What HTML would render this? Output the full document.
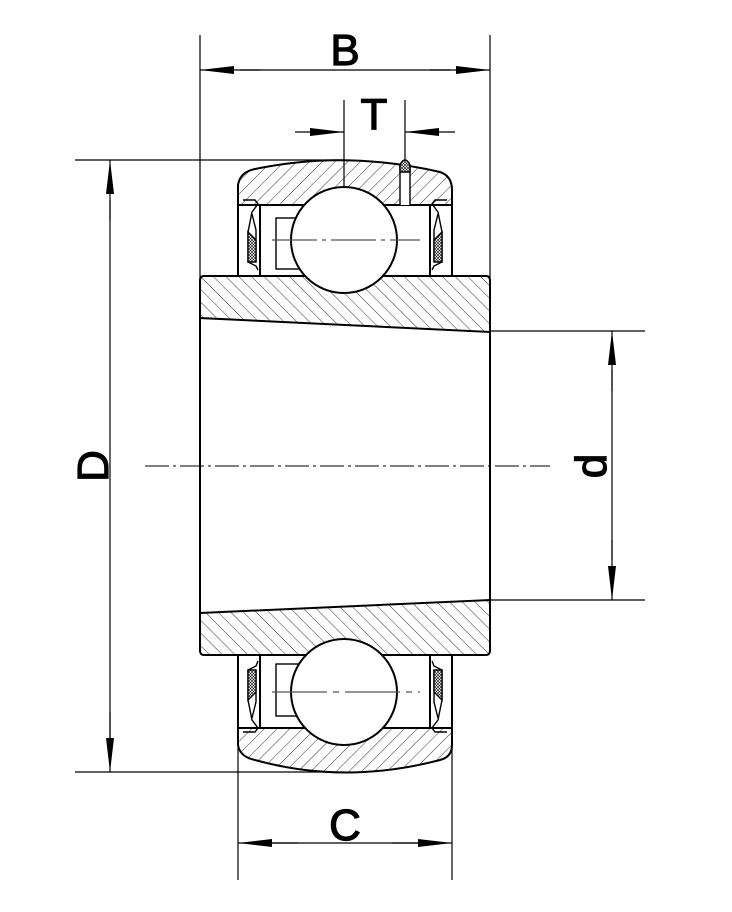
<!DOCTYPE html>
<html><head><style>body{margin:0;background:#fff}svg{display:block}</style></head><body>
<svg width="732" height="912" viewBox="0 0 732 912" xmlns="http://www.w3.org/2000/svg" font-family="Liberation Sans, sans-serif">
<defs>
<pattern id="hf" width="9" height="9" patternUnits="userSpaceOnUse" patternTransform="rotate(45)"><line x1="0" y1="0" x2="0" y2="9" stroke="#000" stroke-width="0.8"/></pattern>
<pattern id="hb" width="9" height="9" patternUnits="userSpaceOnUse" patternTransform="rotate(-45)"><line x1="0" y1="0" x2="0" y2="9" stroke="#000" stroke-width="0.8"/></pattern>
<pattern id="xh" width="3" height="3" patternUnits="userSpaceOnUse"><rect width="3" height="3" fill="#fff"/><path d="M0 0L3 3M3 0L0 3" stroke="#000" stroke-width="0.6"/></pattern>
<marker id="a" markerWidth="34" markerHeight="10" refX="34" refY="5" orient="auto" markerUnits="userSpaceOnUse"><path d="M0 1L34 5L0 9Z"/></marker>
</defs>
<g stroke="#000" fill="none" stroke-width="1.2">
<line x1="200" y1="35" x2="200" y2="280"/><line x1="490" y1="35" x2="490" y2="280"/>
<line x1="344" y1="100" x2="344" y2="240"/><line x1="405" y1="100" x2="405" y2="160"/>
<line x1="75" y1="160" x2="345" y2="160"/><line x1="75" y1="772" x2="345" y2="772"/>
<line x1="490" y1="331" x2="645" y2="331"/><line x1="490" y1="600" x2="645" y2="600"/>
<line x1="238" y1="730" x2="238" y2="880"/><line x1="452" y1="730" x2="452" y2="880"/>
<line x1="260" y1="70" x2="200" y2="70" marker-end="url(#a)"/><line x1="240" y1="70" x2="450" y2="70"/>
<line x1="430" y1="70" x2="490" y2="70" marker-end="url(#a)"/>
<line x1="295" y1="132" x2="344" y2="132" marker-end="url(#a)"/>
<line x1="455" y1="132" x2="405" y2="132" marker-end="url(#a)"/>
<line x1="110" y1="220" x2="110" y2="160" marker-end="url(#a)"/><line x1="110" y1="200" x2="110" y2="740"/>
<line x1="110" y1="712" x2="110" y2="772" marker-end="url(#a)"/>
<line x1="612" y1="391" x2="612" y2="331" marker-end="url(#a)"/><line x1="612" y1="370" x2="612" y2="560"/>
<line x1="612" y1="540" x2="612" y2="600" marker-end="url(#a)"/>
<line x1="298" y1="843" x2="238" y2="843" marker-end="url(#a)"/><line x1="270" y1="843" x2="420" y2="843"/>
<line x1="392" y1="843" x2="452" y2="843" marker-end="url(#a)"/>
<line x1="145" y1="466" x2="550" y2="466" stroke-dasharray="24,4,3,4" stroke-width="1"/>
</g>
<g stroke="#000" stroke-width="2">
<path d="M238 205 L238 185 Q240 172 255 169 Q345 150 440 172 Q452 176 452 190 L452 205 Z" fill="url(#hf)"/>
<path d="M204 276 L486 276 Q490 276 490 281 L490 332 L200 318 L200 281 Q200 276 204 276 Z" fill="url(#hb)"/>
<path d="M200 318 L200 613 M490 332 L490 600" fill="none"/>
<path d="M200 613 L490 600 L490 650 Q490 655 486 655 L204 655 Q200 655 200 650 Z" fill="url(#hb)"/>
<path d="M238 728 L452 728 L452 745 Q452 757 440 760 Q345 785 255 760 Q240 757 238 745 Z" fill="url(#hf)"/>
<path d="M238 205 L238 276 M260 205 L260 276 M430 205 L430 276 M452 205 L452 276 M238 655 L238 728 M260 655 L260 728 M430 655 L430 728 M452 655 L452 728" fill="none"/>
<rect x="276" y="218" width="40" height="51" fill="#fff" stroke-width="1.4"/>
<rect x="276" y="664" width="96" height="52" fill="#fff" stroke-width="1.4"/>
<circle cx="344" cy="240" r="53" fill="#fff"/>
<circle cx="344" cy="692" r="53" fill="#fff"/>
<path d="M400 205 L400 165 Q405 155 410 165 L410 205" fill="#fff" stroke-width="1.4"/>
<path d="M400 172 L400 165 Q405 155 410 165 L410 172 Z" fill="url(#xh)" stroke-width="1.4"/>
</g>
<g stroke="#000" stroke-width="1.4" fill="none">
<path d="M243 200 L255 200 L258 204 L252 212 L248 232 L248 262 L256 266 L258 270" />
<path d="M252 214 L256 230 L256 262" />
<path d="M248 232 L256 240 L256 262 L248 262 Z" fill="url(#xh)"/>
<path d="M447 200 L435 200 L432 204 L438 212 L442 232 L442 262 L434 266 L432 270" />
<path d="M438 214 L434 230 L434 262" />
<path d="M442 232 L434 240 L434 262 L442 262 Z" fill="url(#xh)"/>
<path d="M243 732 L255 732 L258 728 L252 720 L248 700 L248 670 L256 666 L258 661" />
<path d="M252 718 L256 702 L256 670" />
<path d="M248 700 L256 692 L256 670 L248 670 Z" fill="url(#xh)"/>
<path d="M447 732 L435 732 L432 728 L438 720 L442 700 L442 670 L434 666 L432 661" />
<path d="M438 718 L434 702 L434 670" />
<path d="M442 700 L434 692 L434 670 L442 670 Z" fill="url(#xh)"/>
</g>
<g stroke="#555" stroke-width="1.2">
<line x1="272" y1="240" x2="420" y2="240" stroke-dasharray="45,5,4,5"/>
<line x1="272" y1="692" x2="420" y2="692" stroke-dasharray="55,6,6,6"/>
</g>
<g font-size="44" text-anchor="middle" fill="#000" stroke="#000" stroke-width="1.2">
<text x="345" y="65">B</text>
<text x="374" y="129">T</text>
<text x="345" y="840">C</text>
<text transform="translate(108,466) rotate(-90)" x="0" y="0">D</text>
<text transform="translate(606,466) rotate(-90)" x="0" y="0">d</text>
</g>
</svg>
</body></html>
